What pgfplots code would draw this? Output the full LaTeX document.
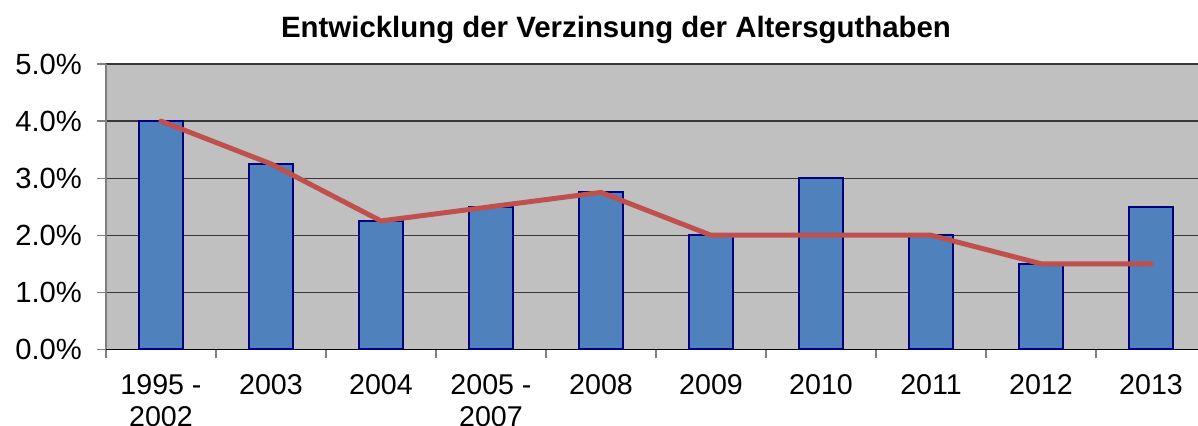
\documentclass[border=0pt]{standalone}
\usepackage{pgfplots}
\pgfplotsset{compat=1.18}
\usepackage{fontspec}
\setmainfont{Liberation Sans}
\definecolor{barblue}{HTML}{4F81BD}
\definecolor{barline}{HTML}{000080}
\definecolor{linered}{HTML}{C0504D}
\definecolor{plotbg}{HTML}{C0C0C0}
\definecolor{gridc}{HTML}{383838}

\begin{document}
\begin{tikzpicture}
\clip (0,0) rectangle (599pt,213pt);
\path[fill=white] (0,0) rectangle (599pt,213pt);
\node at (308pt,198pt) {\fontsize{14.7}{16}\selectfont\bfseries Entwicklung der Verzinsung der Altersguthaben};
\begin{axis}[
  at={(53pt,38.3pt)}, anchor=south west,
  width=550pt, height=142.7pt, scale only axis,
  xmin=-0.5, xmax=9.5, ymin=0, ymax=5,
  axis background/.style={fill=plotbg},
  axis x line*=bottom, axis y line*=left,
  x axis line style={black, line width=0.6pt, -},
  y axis line style={gray, line width=0.8pt, -},
  xtick={0,...,9},
  xticklabels={{1995 -\\2002},2003,2004,{2005 -\\2007},2008,2009,2010,2011,2012,2013},
  xticklabel style={align=center, font=\fontsize{14.3}{16}\selectfont, yshift=-4.5pt, anchor=north},
  major x tick style={draw=none},
  minor xtick={-0.5,0.5,...,9.5},
  minor x tick style={gray, line width=0.6pt},
  minor tick length=4.5pt,
  xtick align=outside,
  ytick={0,1,2,3,4,5},
  yticklabels={0.0\%,1.0\%,2.0\%,3.0\%,4.0\%,5.0\%},
  yticklabel style={font=\fontsize{14.6}{16}\selectfont, xshift=-4pt},
  ytick align=outside,
  major tick length=4.5pt,
  major y tick style={gray, line width=0.6pt},
  ymajorgrids,
  grid style={gridc, line width=0.6pt},
]
\addplot[ybar, bar width=22pt, fill=barblue, draw=barline, line width=1pt]
  coordinates {(0,4.0) (1,3.25) (2,2.25) (3,2.5) (4,2.75) (5,2.0) (6,3.0) (7,2.0) (8,1.5) (9,2.5)};
\addplot[sharp plot, linered, line width=2.5pt, line cap=round, line join=round, mark=none]
  coordinates {(0,4.0) (1,3.25) (2,2.25) (3,2.5) (4,2.75) (5,2.0) (6,2.0) (7,2.0) (8,1.5) (9,1.5)};
\end{axis}
\end{tikzpicture}
\end{document}
